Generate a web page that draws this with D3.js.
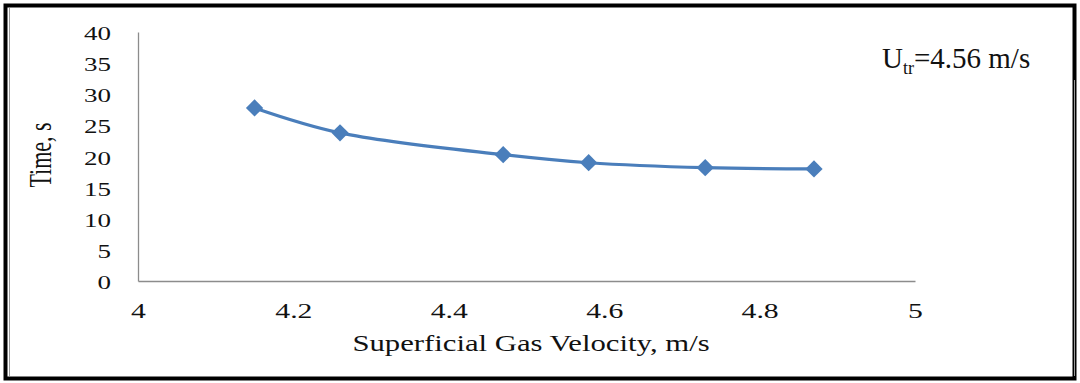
<!DOCTYPE html>
<html>
<head>
<meta charset="utf-8">
<script src="https://cdn.jsdelivr.net/npm/d3@7"></script>
<style>
  html, body { margin: 0; padding: 0; background: #fff; }
  svg { display: block; }
  text { font-family: "Liberation Serif", "Times New Roman", serif; fill: #111; }
</style>
</head>
<body>
<svg id="chart" width="1080" height="383"></svg>
<script>
// Superficial gas velocity (m/s) and measured time (s)
const velocity = [4.15, 4.26, 4.47, 4.58, 4.73, 4.87];
const timeSec = [27.8, 23.8, 20.3, 19.0, 18.2, 18.0];
const xTicks = [4, 4.2, 4.4, 4.6, 4.8, 5];
const yTicks = [0, 5, 10, 15, 20, 25, 30, 35, 40];

const svg = d3.select("#chart");
const W = 1080, H = 383;
const plot = { left: 138, right: 915, top: 32, bottom: 281 };
const serif = '"Liberation Serif", "Times New Roman", serif';

// Frame
svg.append("rect").attr("x", 0).attr("y", 0).attr("width", W).attr("height", H).attr("fill", "#fff");
svg.append("rect").attr("x", 5.5).attr("y", 5.5).attr("width", W - 11).attr("height", H - 10)
  .attr("fill", "none").attr("stroke", "#000").attr("stroke-width", 4);
svg.append("line").attr("x1", 9.5).attr("x2", 9.5).attr("y1", 8).attr("y2", H - 7)
  .attr("stroke", "#999").attr("stroke-width", 1);
svg.append("line").attr("x1", 1074.5).attr("x2", 1074.5).attr("y1", 80).attr("y2", H - 7)
  .attr("stroke", "#999").attr("stroke-width", 1);

const x = d3.scaleLinear().domain([4, 5]).range([plot.left, plot.right]);
const y = d3.scaleLinear().domain([0, 40]).range([plot.bottom, plot.top]);

// Axes (labels are drawn wide, as in the source chart)
const xAxis = d3.axisBottom(x).tickValues(xTicks).tickSize(0).tickFormat(d => d3.format("")(d));
const gx = svg.append("g").attr("transform", `translate(0,${plot.bottom})`).call(xAxis);
gx.attr("font-family", null);
gx.select(".domain").attr("stroke", "#8c8c8c").attr("stroke-width", 1.3);
gx.selectAll("text")
  .style("font-family", serif).style("font-size", "22px")
  .attr("x", 0).attr("y", 0).attr("dy", 0)
  .attr("transform", "translate(0,37) scale(1.35,1)");

const yAxis = d3.axisLeft(y).tickValues(yTicks).tickSize(0);
const gy = svg.append("g").attr("transform", `translate(${plot.left},0)`).call(yAxis);
gy.attr("font-family", null);
gy.select(".domain").attr("stroke", "#8c8c8c").attr("stroke-width", 1.3);
gy.selectAll("text")
  .style("font-family", serif).style("font-size", "18px")
  .attr("x", 0).attr("dy", "0.42em")
  .attr("transform", "translate(-27,0) scale(1.5,1)");

// Axis titles
svg.append("text").attr("transform", "translate(531,351) scale(1.28,1)")
  .attr("text-anchor", "middle").style("font-size", "24px")
  .text("Superficial Gas Velocity, m/s");
svg.append("text").attr("transform", "translate(51,155) scale(1.45,1) rotate(-90)")
  .attr("text-anchor", "middle").style("font-size", "22px").text("Time, s");

// Annotation
const note = svg.append("text").attr("x", 882).attr("y", 68).style("font-size", "29px");
note.append("tspan").text("U");
note.append("tspan").attr("dy", 6).style("font-size", "18px").text("tr");
note.append("tspan").attr("dy", -6).text("=4.56 m/s");

// Series
const pts = velocity.map((v, i) => [v, timeSec[i]]);
const line = d3.line().x(d => x(d[0])).y(d => y(d[1])).curve(d3.curveCatmullRom.alpha(0.5));
svg.append("path").datum(pts).attr("d", line).attr("fill", "none")
  .attr("stroke", "#4a7ebb").attr("stroke-width", 3.2);

const diamond = d3.symbol().type(d3.symbolDiamond2).size(190);
svg.selectAll(".pt").data(pts).join("path").attr("class", "pt")
  .attr("transform", d => `translate(${x(d[0])},${y(d[1])})`)
  .attr("d", diamond).attr("fill", "#4a7ebb");
</script>
</body>
</html>
